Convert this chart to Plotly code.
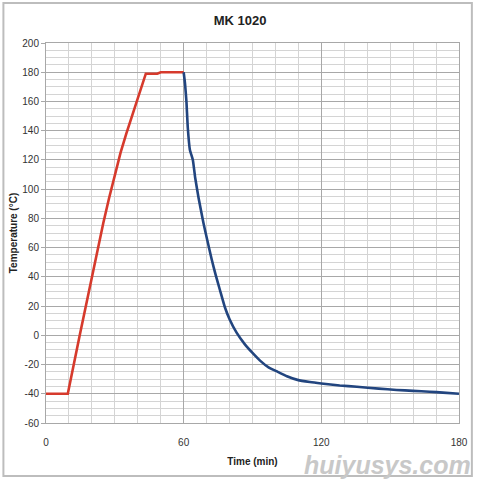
import plotly.graph_objects as go

# Heating phase (red)
heat_time = [0, 9.5, 14.7, 20, 25, 27.5, 30, 32.5, 35, 40, 43.5, 46, 48.5, 50, 55, 60]
heat_temp = [-40, -40, 0, 40, 77, 94, 110, 125, 138, 162, 179, 179, 179, 180, 180, 180]

# Cooling phase (blue)
cool_time = [60, 60.6, 61.2, 61.8, 62.7, 64, 65, 66.5, 68.6, 70.3, 72.2, 74, 75.8, 78, 80, 83,
             86.6, 90, 93.8, 97, 101, 105, 109.6, 115, 120, 128, 135.5, 145, 152.8, 160, 167.2, 173, 180]
cool_temp = [180, 172, 160, 142, 127, 120, 108, 94, 77, 65, 52, 41, 31, 19, 11, 2,
             -6, -12, -18, -22, -25, -28, -30.5, -32, -33, -34.3, -35.2, -36.5, -37.4, -38, -38.6, -39.2, -40]

x_ticks = [0, 60, 120, 180]
y_ticks = list(range(-60, 201, 20))

FONT = "Liberation Sans Narrow, Liberation Sans, Arial, sans-serif"

fig = go.Figure()
fig.add_trace(go.Scatter(x=heat_time, y=heat_temp, mode="lines",
                         line=dict(color="#D63A2C", width=2.6), showlegend=False))
fig.add_trace(go.Scatter(x=cool_time, y=cool_temp, mode="lines",
                         line=dict(color="#22457F", width=2.6, shape="spline", smoothing=0.5),
                         showlegend=False))

fig.update_layout(
    width=480, height=480,
    margin=dict(l=46, r=17, t=43, b=57),
    paper_bgcolor="white", plot_bgcolor="white",
    title=dict(text="<b>MK 1020</b>", x=0.5, xanchor="center", y=0.958, yanchor="middle",
               font=dict(family=FONT, size=13, color="#222")),
    font=dict(family=FONT, size=10, color="#333"),
)

fig.update_xaxes(
    range=[0, 180], tickvals=x_ticks, ticktext=[str(v) for v in x_ticks],
    showgrid=True, gridcolor="#A8A8A8", gridwidth=1,
    minor=dict(dtick=10, showgrid=True, gridcolor="#D4D4D4", gridwidth=1),
    showline=True, linecolor="#A8A8A8", linewidth=1, mirror=True,
    zeroline=False, ticks="", ticklabelstandoff=10,
    tickfont=dict(family=FONT, size=10, color="#333"),
    title=dict(text="<b>Time (min)</b>", font=dict(family=FONT, size=10, color="#222"), standoff=10),
)
fig.update_yaxes(
    range=[-60, 200], tickvals=y_ticks, ticktext=[str(v) for v in y_ticks],
    showgrid=True, gridcolor="#A8A8A8", gridwidth=1,
    minor=dict(dtick=5, showgrid=True, gridcolor="#D4D4D4", gridwidth=1),
    showline=True, linecolor="#A8A8A8", linewidth=1, mirror=True,
    zeroline=False, ticks="outside", ticklen=4, tickcolor="#A8A8A8",
    tickfont=dict(family=FONT, size=10, color="#333"),
    title=dict(text="<b>Temperature (°C)</b>", font=dict(family=FONT, size=10, color="#222"), standoff=2),
)

# outer chart border
pw, ph = 480 - 46 - 17, 480 - 43 - 57
fig.add_shape(type="rect", xref="paper", yref="paper",
              x0=(3 - 46) / pw, x1=(476 - 46) / pw,
              y0=(423 - 476) / ph, y1=(423 - 3) / ph,
              line=dict(color="#BDBDBD", width=2), fillcolor="rgba(0,0,0,0)")

# watermark
fig.add_annotation(text="<b><i>huiyusys.com</i></b>", xref="paper", yref="paper",
                   x=(477 - 46) / pw, y=(423 - 465) / ph, xanchor="right", yanchor="middle",
                   showarrow=False,
                   font=dict(family="Liberation Sans, Arial, sans-serif", size=25, color="#C8C8C8"))

fig.write_html("out.html")
